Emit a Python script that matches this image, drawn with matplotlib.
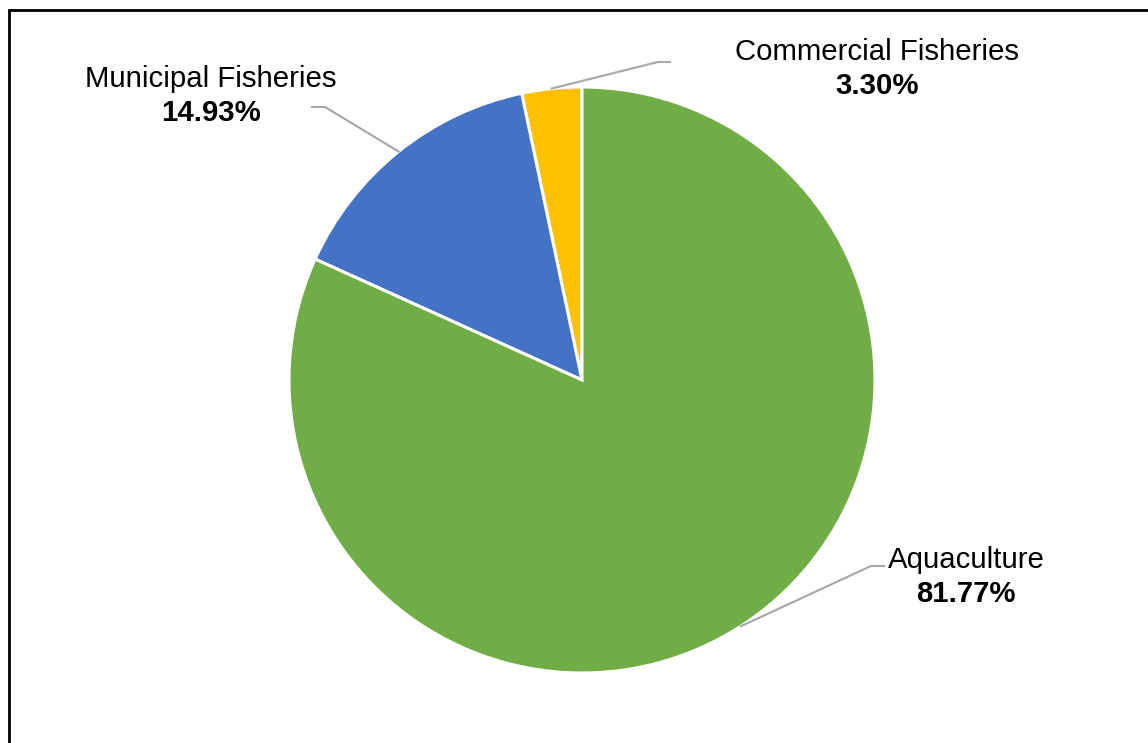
import numpy as np
import matplotlib
matplotlib.use("Agg")
import matplotlib.pyplot as plt
from matplotlib.lines import Line2D

categories = ["Commercial Fisheries", "Municipal Fisheries", "Aquaculture"]
values = [3.30, 14.93, 81.77]
colors = ["#FFC000", "#4472C4", "#70AD47"]

W, H = 1148, 743
fig = plt.figure(figsize=(W / 100, H / 100), dpi=100)
ax = fig.add_axes([0, 0, 1, 1])
ax.set_xlim(0, W)
ax.set_ylim(0, H)
ax.set_aspect("equal")
ax.axis("off")

cx, cy, R = 582, H - 380, 293
wedges, _ = ax.pie(values, colors=colors, startangle=90, counterclock=True,
                   center=(cx, cy), radius=R, frame=True,
                   wedgeprops=dict(edgecolor="white", linewidth=2.2))
ax.set_xlim(0, W)
ax.set_ylim(0, H)
ax.axis("off")

# label layout: (elbow x, elbow y, end x, text x, text y top line)
layout = {
    "Commercial Fisheries": (658, H - 62, 670, 877, H - 52),
    "Municipal Fisheries": (325, H - 107, 312, 211, H - 79),
    "Aquaculture": (871, H - 566, 884, 966, H - 560),
}
fam = ["Liberation Sans", "DejaVu Sans"]
for w, cat, v in zip(wedges, categories, values):
    ang = np.deg2rad((w.theta1 + w.theta2) / 2)
    sx, sy = cx + R * np.cos(ang), cy + R * np.sin(ang)
    ex, ey, endx, tx, ty = layout[cat]
    ax.add_line(Line2D([sx, ex, endx], [sy, ey, ey], color="#A6A6A6", lw=1.5))
    ax.text(tx, ty, cat, ha="center", va="center", fontsize=21.2, family=fam, color="black")
    ax.text(tx, ty - 34, f"{v:.2f}%", ha="center", va="center", fontsize=21.2,
            family=fam, fontweight="bold", color="black")

# chart border (top and left visible)
ax.add_line(Line2D([8.5, 8.5, W], [0, H - 9.5, H - 9.5], color="black", lw=2.0,
                   solid_joinstyle="miter"))

fig.savefig("out.png", dpi=100)
